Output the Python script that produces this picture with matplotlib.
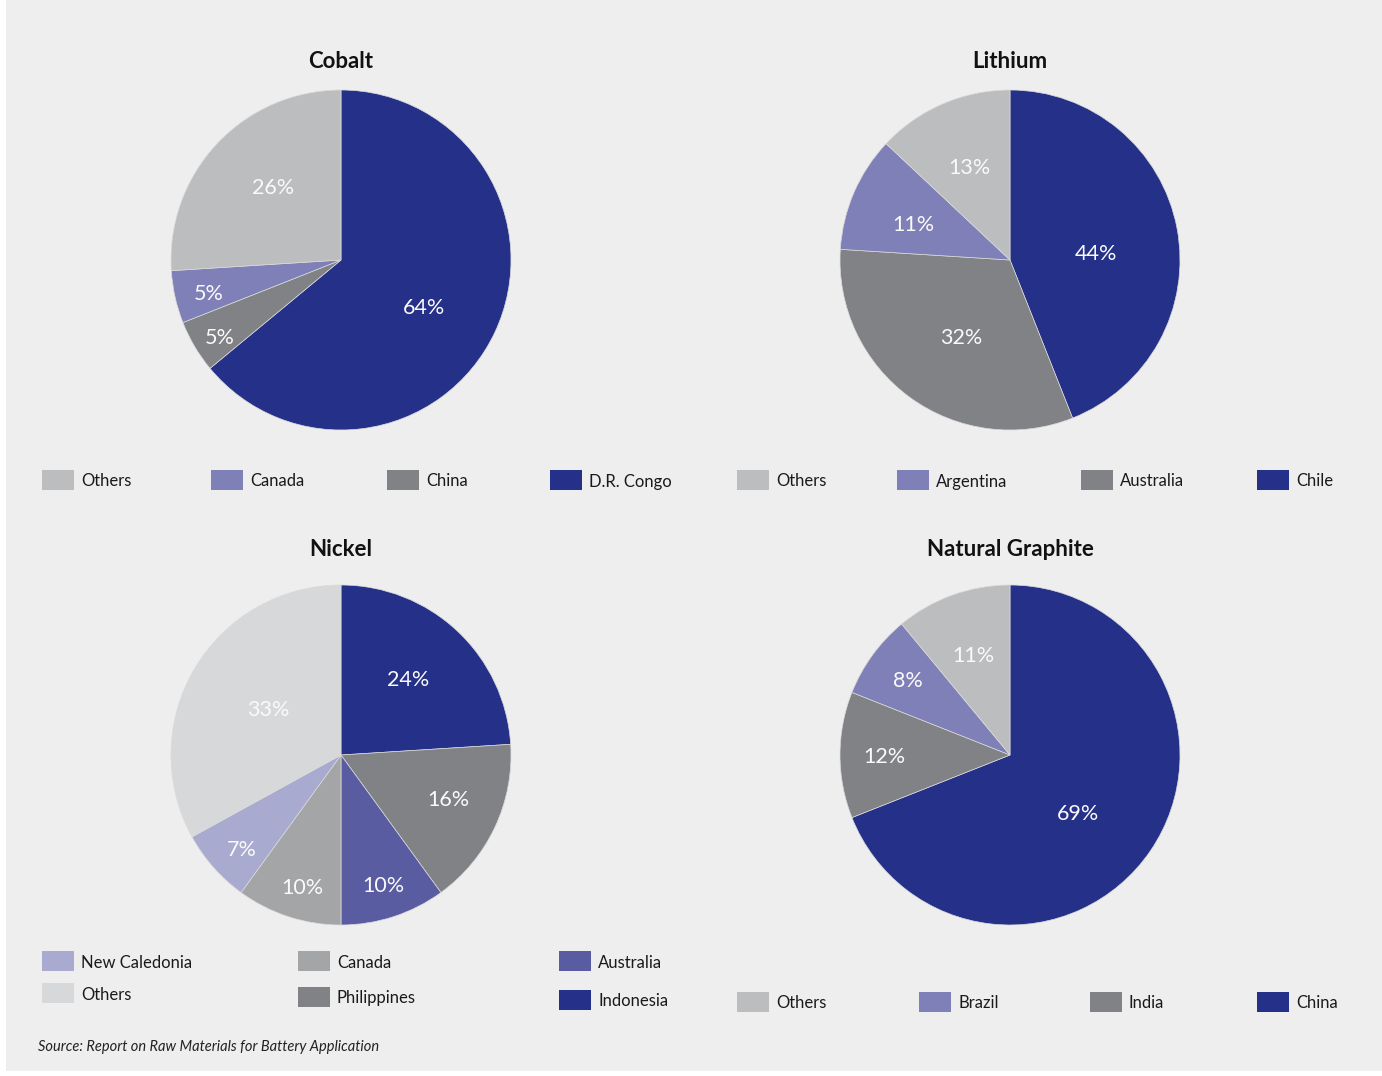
import matplotlib
matplotlib.use("Agg")
import matplotlib.pyplot as plt
from matplotlib.patches import Rectangle
import numpy as np

W, H = 1382, 1076
DPI = 100

plt.rcParams["font.family"] = ["Lato", "DejaVu Sans"]

NAVY = "#253088"
GREY_LIGHT = "#bcbdbf"
GREY_PALE = "#d7d8da"
GREY_MID = "#a4a5a7"
GREY_DARK = "#818285"
LILAC = "#8080b8"
LILAC_PALE = "#a9aacf"
INDIGO = "#5a5ca1"
BG = "#eeeeee"

# shares of world production, listed clockwise from 12 o'clock
cobalt_labels = ["D.R. Congo", "China", "Canada", "Others"]
cobalt_shares = [64, 5, 5, 26]

lithium_labels = ["Chile", "Australia", "Argentina", "Others"]
lithium_shares = [44, 32, 11, 13]

nickel_labels = ["Indonesia", "Philippines", "Australia", "Canada", "New Caledonia", "Others"]
nickel_shares = [24, 16, 10, 10, 7, 33]

graphite_labels = ["China", "India", "Brazil", "Others"]
graphite_shares = [69, 12, 8, 11]


def px(x, y):
    # pixel position (from top-left) -> figure fraction
    return x / W, 1 - y / H


fig = plt.figure(figsize=(W / DPI, H / DPI), dpi=DPI, facecolor="white")
fig.patches.append(Rectangle((6 / W, 1 - 1071 / H), 1, 1071 / H,
                             transform=fig.transFigure, facecolor=BG,
                             edgecolor="none", zorder=-10))


def draw_pie(cx, cy, title_y, title, labels, shares, colors, label_pos, r=170):
    ax = fig.add_axes([(cx - r) / W, 1 - (cy + r) / H, 2 * r / W, 2 * r / H])
    ax.pie(shares, colors=colors, startangle=90, counterclock=False,
           wedgeprops=dict(edgecolor="#dadada", linewidth=0.5))
    ax.set_xlim(-1.0, 1.0)
    ax.set_ylim(-1.0, 1.0)
    ax.set_aspect("equal")
    ax.axis("off")

    # percentage labels: radius and small angular nudge (deg) off the wedge middle
    total = float(sum(shares))
    start = 0.0
    for share, (rr, nudge) in zip(shares, label_pos):
        mid = start + share / 2.0
        ang = np.deg2rad(90 - 360 * mid / total + nudge)
        ax.text(rr * np.cos(ang), rr * np.sin(ang), f"{share}%",
                ha="center", va="center_baseline", color="#fafafa",
                fontsize=15.5)
        start += share

    tx, ty = px(cx, title_y)
    fig.text(tx, ty, title, ha="center", va="center_baseline", fontsize=16,
             fontweight="bold", color="#111111")


def draw_legend(entries, colors):
    for (name, x, y) in entries:
        sx, sy = px(x, y + 10)
        fig.patches.append(Rectangle((sx, sy), 32 / W, 20 / H,
                                     transform=fig.transFigure,
                                     facecolor=colors[name], edgecolor="none"))
        lx, ly = px(x + 39, y)
        fig.text(lx, ly, name, ha="left", va="center_baseline", fontsize=12,
                 color="#1a1a1a")


cobalt_colors = dict(zip(cobalt_labels, [NAVY, GREY_DARK, LILAC, GREY_LIGHT]))
lithium_colors = dict(zip(lithium_labels, [NAVY, GREY_DARK, LILAC, GREY_LIGHT]))
nickel_colors = dict(zip(nickel_labels, [NAVY, GREY_DARK, INDIGO, GREY_MID, LILAC_PALE, GREY_PALE]))
graphite_colors = dict(zip(graphite_labels, [NAVY, GREY_DARK, LILAC, GREY_LIGHT]))

draw_pie(341, 260, 60, "Cobalt", cobalt_labels, cobalt_shares,
         [cobalt_colors[k] for k in cobalt_labels],
         [(0.56, -3.8), (0.84, 1.5), (0.80, 0.9), (0.59, -4.2)])
draw_pie(1010, 260, 60, "Lithium", lithium_labels, lithium_shares,
         [lithium_colors[k] for k in lithium_labels],
         [(0.51, -5.5), (0.53, 3.2), (0.61, 2.5), (0.60, 0.0)])
draw_pie(341, 755, 548, "Nickel", nickel_labels, nickel_shares,
         [nickel_colors[k] for k in nickel_labels],
         [(0.60, 1.8), (0.68, 3.5), (0.80, 0.3), (0.80, 1.7), (0.80, 1.8), (0.51, -2.5)])
draw_pie(1010, 755, 548, "Natural Graphite", graphite_labels, graphite_shares,
         [graphite_colors[k] for k in graphite_labels],
         [(0.52, -5.8), (0.74, 0.0), (0.75, -0.4), (0.63, 0.0)])

draw_legend([("Others", 42, 480), ("Canada", 211, 480), ("China", 387, 480),
             ("D.R. Congo", 550, 480)], cobalt_colors)
draw_legend([("Others", 737, 480), ("Argentina", 897, 480), ("Australia", 1081, 480),
             ("Chile", 1257, 480)], lithium_colors)
draw_legend([("New Caledonia", 42, 961), ("Canada", 298, 961), ("Australia", 559, 961),
             ("Others", 42, 993), ("Philippines", 298, 997), ("Indonesia", 559, 1000)],
            nickel_colors)
draw_legend([("Others", 737, 1002), ("Brazil", 919, 1002), ("India", 1090, 1002),
             ("China", 1257, 1002)], graphite_colors)

sx, sy = px(38, 1046)
fig.text(sx, sy, "Source: Report on Raw Materials for Battery Application",
         ha="left", va="center_baseline", fontsize=10.5, style="italic",
         color="#222222")

fig.savefig("out.png", dpi=DPI, facecolor=fig.get_facecolor())
